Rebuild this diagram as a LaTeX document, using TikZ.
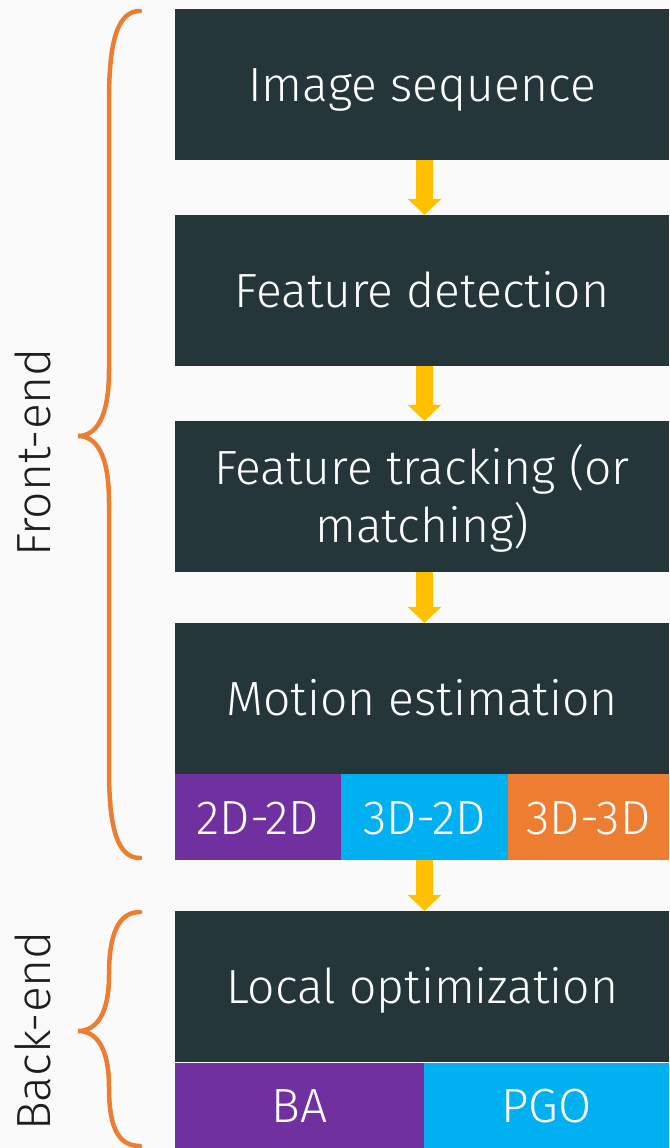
\documentclass[tikz,border=0pt]{standalone}
\usepackage{fontspec}
\setmainfont{Fira Sans Light}
\usetikzlibrary{arrows.meta}
\definecolor{bgc}{HTML}{FAFAFA}
\definecolor{darkc}{HTML}{25363B}
\definecolor{arrowc}{HTML}{FFC000}
\definecolor{bracec}{HTML}{ED7D31}
\definecolor{purplec}{HTML}{7030A0}
\definecolor{bluec}{HTML}{00B0F0}
\definecolor{orangec}{HTML}{ED7D31}
\definecolor{labelc}{HTML}{1E1E1E}
\tikzset{
  bigfont/.style={font=\fontsize{48}{58}\selectfont, text height=34pt, text depth=0pt},
  stagebox/.style={fill=darkc, text=white, inner sep=0pt, minimum width=494pt, minimum height=151pt, align=center, bigfont},
  subbox/.style={text=white, inner sep=0pt, minimum height=86pt, bigfont},
  flowarrow/.style={draw=arrowc, line width=17pt, -{Triangle[width=33pt,length=16pt]}},
  bracestyle/.style={draw=bracec, line width=4.5pt, line cap=round},
  sidelabel/.style={text=labelc, rotate=90, inner sep=0pt, bigfont}
}
\begin{document}
\begin{tikzpicture}[x=1pt,y=-1pt]
\fill[bgc] (0,0) rectangle (669,1148);
\useasboundingbox (0,0) rectangle (669,1148);

\node[stagebox] (b1) at (422,84.5) {Image sequence};
\node[stagebox] (b2) at (422,290.5) {Feature detection};
\node[stagebox, text height=92pt] (b3) at (422,496.5) {Feature tracking (or\\matching)};
\node[stagebox] (b4) at (422,698.5) {Motion estimation};
\node[subbox, fill=purplec, minimum width=166pt] (m1) at (258,817) {2D-2D};
\node[subbox, fill=bluec, minimum width=167pt] (m2) at (424.5,817) {3D-2D};
\node[subbox, fill=orangec, minimum width=161pt] (m3) at (588.5,817) {3D-3D};
\node[stagebox] (b5) at (422,986.5) {Local optimization};
\node[subbox, fill=purplec, minimum width=249pt, minimum height=85pt] (o1) at (299.5,1105.5) {BA};
\node[subbox, fill=bluec, minimum width=245pt, minimum height=85pt] (o2) at (546.5,1105.5) {PGO};

\draw[flowarrow] (b1.south -| m2.south) -- (b2.north -| m2.south);
\draw[flowarrow] (b2.south -| m2.south) -- (b3.north -| m2.south);
\draw[flowarrow] (b3.south -| m2.south) -- (b4.north -| m2.south);
\draw[flowarrow] (m2.south) -- (b5.north -| m2.south);

\draw[bracestyle] (140,11) .. controls (118,11) and (109,40) .. (109,100) -- (109,370)
  .. controls (109,418) and (96,436) .. (78,436)
  .. controls (96,436) and (109,454) .. (109,502) -- (109,770)
  .. controls (109,830) and (118,858) .. (140,858);
\draw[bracestyle] (140,912) .. controls (118,912) and (109,935) .. (109,975)
  .. controls (109,1015) and (96,1031) .. (78,1031)
  .. controls (96,1031) and (109,1047) .. (109,1087)
  .. controls (109,1127) and (118,1146) .. (140,1146);

\node[sidelabel] (fe) at (33,452.5) {Front-end};
\node[sidelabel] (be) at (33,1031) {Back-end};
\end{tikzpicture}
\end{document}
